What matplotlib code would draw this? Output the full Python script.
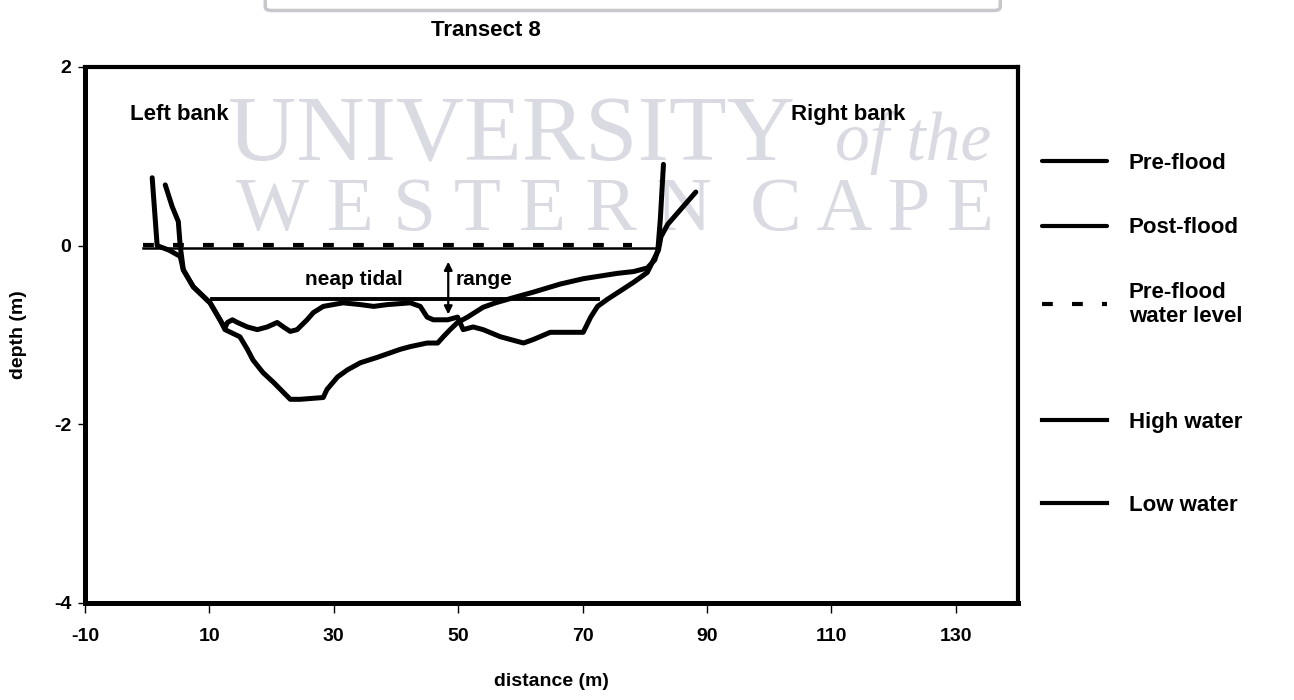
import matplotlib
matplotlib.use("Agg")
import matplotlib.pyplot as plt
from matplotlib.patches import FancyBboxPatch

plt.rcParams['font.family'] = ['Liberation Sans', 'DejaVu Sans']
plt.rcParams['font.weight'] = 'bold'
plt.rcParams['axes.unicode_minus'] = False

# bed profiles, distance (m) vs depth (m)
pre_x = [0.8, 1.6, 3.5, 5.3, 5.8, 7.4, 10.1, 11.7, 12.5, 14.9, 16.1, 17.0, 18.6,
         20.3, 23.0, 24.6, 28.3, 28.9, 30.6, 32.2, 34.3, 37.0, 40.7, 42.3, 45.0,
         46.7, 47.6, 48.7, 49.9, 51.5, 54.0, 56.0, 59.5, 62.1, 66.4, 70.1, 75.6,
         78.2, 80.4, 81.6, 82.1, 82.5, 83.0]
pre_y = [0.76, 0.0, -0.05, -0.12, -0.27, -0.46, -0.64, -0.83, -0.94, -1.02, -1.16,
         -1.28, -1.42, -1.53, -1.72, -1.72, -1.70, -1.61, -1.47, -1.39, -1.31, -1.25,
         -1.16, -1.13, -1.09, -1.09, -1.02, -0.94, -0.86, -0.80, -0.69, -0.64, -0.57,
         -0.52, -0.43, -0.37, -0.31, -0.29, -0.25, -0.16, -0.05, 0.30, 0.91]

post_x = [2.9, 4.0, 5.0, 5.3, 5.8, 7.4, 10.1, 11.7, 12.5, 12.9, 13.7, 14.5, 16.1,
          17.7, 19.3, 20.9, 21.9, 23.0, 24.1, 25.7, 26.7, 28.3, 31.5, 34.3, 36.4,
          38.6, 42.3, 43.9, 45.0, 46.0, 48.3, 49.9, 50.8, 52.4, 54.0, 56.8, 60.5,
          62.1, 64.8, 67.6, 70.1, 71.3, 72.4, 74.0, 78.2, 80.4, 81.4, 82.2, 82.6,
          83.7, 88.2]
post_y = [0.68, 0.44, 0.27, 0.0, -0.27, -0.46, -0.64, -0.83, -0.92, -0.86, -0.83,
          -0.86, -0.91, -0.94, -0.91, -0.86, -0.91, -0.96, -0.94, -0.83, -0.75, -0.68,
          -0.64, -0.66, -0.68, -0.66, -0.64, -0.68, -0.80, -0.83, -0.83, -0.80, -0.94,
          -0.91, -0.94, -1.02, -1.09, -1.05, -0.97, -0.97, -0.97, -0.80, -0.68, -0.60,
          -0.41, -0.30, -0.16, -0.05, 0.10, 0.24, 0.60]

# water levels
pre_wl_x = [-0.7, 78.0]
pre_wl_y = [0.01, 0.01]
high_x = [-0.7, 81.8]
high_y = [-0.03, -0.03]
low_x = [10.4, 72.4]
low_y = [-0.60, -0.60]

xticks = [-10, 10, 30, 50, 70, 90, 110, 130]
yticks = [-4, -2, 0, 2]

fig = plt.figure(figsize=(12.94, 7), dpi=100)

# faint watermark behind the plot
wm = '#d9dae2'
fig.text(0.176, 0.771, 'UNIVERSITY', family='Liberation Serif', fontsize=68,
         color=wm, weight='normal', va='baseline', zorder=-5)
fig.text(0.645, 0.771, 'of the', family='Liberation Serif', fontsize=50,
         color=wm, weight='normal', style='italic', va='baseline', zorder=-5)
fig.text(0.182, 0.671, 'W E S T E R N  C A P E', family='Liberation Serif',
         fontsize=55.5, color=wm, weight='normal', va='baseline', zorder=-5)
fig.add_artist(FancyBboxPatch((0.205, 0.985), 0.568, 0.1,
                              boxstyle='round,pad=0.0,rounding_size=0.005',
                              transform=fig.transFigure, fc='none', ec='#c8c8cc',
                              lw=2.5, zorder=-5))

ax = fig.add_axes([0.0657, 0.1386, 0.7210, 0.7657])
ax.patch.set_visible(False)

l_pre, = ax.plot(pre_x, pre_y, color='k', lw=3.6, solid_joinstyle='round',
                 solid_capstyle='round', label='Pre-flood')
l_post, = ax.plot(post_x, post_y, color='k', lw=3.6, solid_joinstyle='round',
                  solid_capstyle='round', label='Post-flood')
l_wl, = ax.plot(pre_wl_x, pre_wl_y, color='k', lw=3.0, dashes=(2.6, 4.6),
                label='Pre-flood\nwater level')
l_high, = ax.plot(high_x, high_y, color='k', lw=1.8, label='High water')
l_low, = ax.plot(low_x, low_y, color='k', lw=2.8, label='Low water')

ax.set_xlim(-10, 140)
ax.set_ylim(-4, 2)
ax.set_xticks(xticks)
ax.set_yticks(yticks)
ax.tick_params(axis='x', direction='out', length=7, width=1, pad=11, labelsize=14)
ax.tick_params(axis='y', direction='out', length=5, width=1, pad=5, labelsize=14)
for side in ['left', 'bottom']:
    ax.spines[side].set_linewidth(3.6)
for side in ['top', 'right']:
    ax.spines[side].set_linewidth(3.0)

ax.set_xlabel('distance (m)', fontsize=14, fontweight='bold', labelpad=20)
ax.set_ylabel('depth (m)', fontsize=14, fontweight='bold')
ax.yaxis.set_label_coords(-0.062, 0.5)
ax.set_title('Transect 8', fontsize=16, fontweight='bold', pad=22, x=0.43)

ax.text(-2.8, 1.47, 'Left bank', fontsize=16, fontweight='bold', va='center')
ax.text(103.5, 1.47, 'Right bank', fontsize=16, fontweight='bold', va='center')
ax.text(25.4, -0.38, 'neap tidal', fontsize=15, fontweight='bold', va='center')
ax.text(49.6, -0.38, 'range', fontsize=15, fontweight='bold', va='center')
ax.annotate('', xy=(48.4, -0.77), xytext=(48.4, -0.18),
            arrowprops=dict(arrowstyle='<|-|>', color='k', lw=1.6,
                            mutation_scale=12, shrinkA=0, shrinkB=0))

leg1 = fig.legend(handles=[l_pre, l_post, l_wl], loc='upper left',
                  bbox_to_anchor=(0.79, 0.81), frameon=False, fontsize=16,
                  handlelength=2.9, handletextpad=1.0, labelspacing=1.95)
leg2 = fig.legend(handles=[l_high, l_low], loc='upper left',
                  bbox_to_anchor=(0.79, 0.44), frameon=False, fontsize=16,
                  handlelength=2.9, handletextpad=1.0, labelspacing=2.8)
for lg in (leg1, leg2):
    for h in lg.legend_handles:
        h.set_linewidth(3.0)

fig.savefig('out.png', dpi=100)
